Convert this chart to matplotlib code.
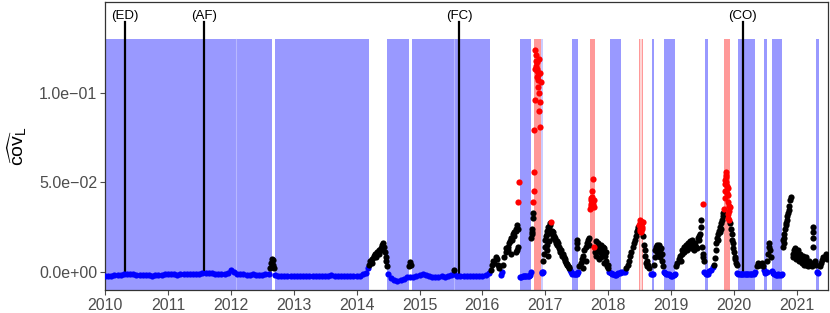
import numpy as np
import matplotlib
matplotlib.use('Agg')
import matplotlib.pyplot as plt

plt.rcParams['font.family'] = ['Liberation Sans', 'DejaVu Sans']
plt.rcParams['mathtext.fontset'] = 'custom'
plt.rcParams['mathtext.rm'] = 'Liberation Sans'
plt.rcParams['mathtext.it'] = 'Liberation Sans:italic'

# --- data (decimal years, covariance values) ---
# flat blue stretches, one reading every 0.05 year (values in 1e-3)
blue_flat_2010 = [-2.2, -2.2, -2.1, -2.0, -1.8, -1.6, -1.4, -1.3, -1.4, -1.5, -1.6, -1.8, -1.9, -2.0, -2.0, -2.1, -1.9, -1.6, -1.7, -1.5,
                  -1.4, -1.3, -1.5, -1.6, -1.4, -1.2, -1.5, -1.4, -1.3, -1.1, -1.0, -0.9, -0.9, -0.8, -0.9, -1.0, -1.0, -1.1, -1.2, -0.5,
                  0.9, -0.4, -1.0, -1.3, -1.5, -1.8, -1.6, -1.5, -1.7, -1.8, -1.6, -1.4, -1.0]
blue_flat_2012 = [-1.8, -2.2, -2.4, -2.5, -2.5, -2.6,
                  -2.6, -2.6, -2.5, -2.6, -2.6, -2.6, -2.5, -2.5, -2.4, -2.5, -2.4, -2.2, -1.9, -2.2, -2.4, -2.4, -2.5, -2.5, -2.4, -2.4,
                  -2.3, -2.2, -1.5, -0.5]
blue_flat_2014 = [-1.0, -3.5, -4.8, -5.2, -4.6, -3.8, -3.2, -2.9, -2.8, -2.5,
                  -2.0, -1.0, -1.8, -2.6, -2.8, -2.8, -2.7, -2.6, -2.7, -2.6, -2.0, -1.5, -2.3, -2.5, -2.5, -2.4, -2.5, -2.6, -2.5, -2.4,
                  -2.2, -1.8, -0.5]
flat_starts = [2010.0, 2012.7, 2014.5]
flat_ends = [2012.6, 2014.15, 2016.1]

blue_pts = [(2014.18, 0.002), (2016.30, -0.002), (2016.31, 0.0),
            (2016.60, -0.0028), (2016.62, -0.0027), (2016.64, -0.0026), (2016.66, -0.0026), (2016.68, -0.0025),
            (2016.70, -0.0025), (2016.72, -0.0024), (2016.74, -0.0022), (2016.76, -0.002), (2016.77, 0.0),
            (2016.94, 0.0), (2016.95, -0.0005), (2016.96, 0.0),
            (2017.39, 0.001), (2017.41, 0.0), (2017.43, -0.001), (2017.45, -0.0013), (2017.47, -0.0015),
            (2017.49, -0.0012), (2017.51, -0.001), (2017.52, 0.0),
            (2018.02, 0.0), (2018.04, -0.0005), (2018.06, -0.001), (2018.08, -0.0015), (2018.10, -0.0018),
            (2018.12, -0.0017), (2018.14, -0.0012), (2018.16, -0.0008), (2018.18, -0.0005), (2018.21, 0.0),
            (2018.24, 0.0), (2018.27, 0.0),
            (2018.68, -0.001), (2018.70, -0.0013), (2018.71, -0.001),
            (2018.88, 0.0), (2018.90, -0.0005), (2018.92, -0.001), (2018.94, -0.0013), (2018.96, -0.0015),
            (2018.98, -0.002), (2019.00, -0.0024), (2019.02, -0.0024), (2019.04, -0.002), (2019.06, -0.001),
            (2019.53, 0.0), (2019.55, -0.001), (2019.57, -0.0013), (2019.59, -0.001), (2019.61, 0.0005),
            (2019.63, 0.001), (2019.66, 0.0025),
            (2020.05, -0.0008), (2020.07, -0.0013), (2020.09, -0.0015), (2020.11, -0.0015), (2020.13, -0.0015),
            (2020.15, -0.0015), (2020.17, -0.0015), (2020.19, -0.0015), (2020.21, -0.0015), (2020.23, -0.0015),
            (2020.25, -0.0015), (2020.27, -0.0014), (2020.29, -0.0013), (2020.31, -0.001), (2020.33, 0.0),
            (2020.48, 0.001), (2020.50, -0.0005), (2020.52, 0.0),
            (2020.60, 0.0006), (2020.62, -0.0005), (2020.64, -0.0012), (2020.66, -0.0018), (2020.68, -0.0018),
            (2020.70, -0.0015), (2020.72, -0.0018), (2020.74, -0.002), (2020.76, -0.0015),
            (2021.32, 0.0), (2021.33, -0.0005)]

black_pts = [(2012.63, 0.002), (2012.645, 0.005), (2012.655, 0.007), (2012.665, 0.0065), (2012.675, 0.004), (2012.685, 0.002),
             (2014.20, 0.004), (2014.22, 0.006), (2014.24, 0.007), (2014.25, 0.005), (2014.27, 0.008), (2014.28, 0.009),
             (2014.30, 0.010), (2014.31, 0.008), (2014.33, 0.011), (2014.35, 0.012), (2014.36, 0.010), (2014.38, 0.013),
             (2014.40, 0.015), (2014.41, 0.012), (2014.42, 0.016), (2014.44, 0.014), (2014.45, 0.011), (2014.46, 0.008),
             (2014.47, 0.006), (2014.48, 0.003),
             (2014.84, 0.003), (2014.85, 0.0056), (2014.86, 0.004), (2015.55, 0.001),
             (2016.13, 0.001), (2016.15, 0.004), (2016.17, 0.006), (2016.19, 0.005), (2016.21, 0.008), (2016.23, 0.007),
             (2016.25, 0.004), (2016.27, 0.002),
             (2016.33, 0.004), (2016.35, 0.008), (2016.37, 0.011), (2016.38, 0.013), (2016.40, 0.014), (2016.41, 0.012),
             (2016.43, 0.016), (2016.44, 0.017), (2016.46, 0.019), (2016.47, 0.018), (2016.49, 0.021), (2016.50, 0.020),
             (2016.51, 0.022), (2016.53, 0.023), (2016.54, 0.024), (2016.55, 0.026), (2016.56, 0.024), (2016.45, 0.010),
             (2016.54, 0.011), (2016.55, 0.012), (2016.56, 0.014),
             (2016.78, 0.019), (2016.785, 0.022), (2016.79, 0.024), (2016.795, 0.021), (2016.80, 0.030), (2016.805, 0.033),
             (2016.97, 0.006), (2016.98, 0.010), (2016.99, 0.014), (2017.00, 0.018), (2017.01, 0.020), (2017.02, 0.021),
             (2017.03, 0.023), (2017.04, 0.022), (2017.05, 0.025), (2017.06, 0.024), (2017.07, 0.026), (2017.08, 0.027),
             (2017.02, 0.012), (2017.03, 0.015), (2017.06, 0.017), (2017.04, 0.009),
             (2017.10, 0.023), (2017.11, 0.021), (2017.12, 0.019), (2017.13, 0.022), (2017.14, 0.020), (2017.15, 0.018),
             (2017.16, 0.019), (2017.17, 0.016), (2017.18, 0.017), (2017.19, 0.015), (2017.20, 0.016), (2017.21, 0.013),
             (2017.22, 0.014), (2017.23, 0.012), (2017.24, 0.011), (2017.25, 0.012), (2017.26, 0.010), (2017.27, 0.009),
             (2017.28, 0.010), (2017.29, 0.008), (2017.30, 0.0075), (2017.31, 0.006), (2017.32, 0.007), (2017.33, 0.005),
             (2017.34, 0.004), (2017.35, 0.0045), (2017.36, 0.003), (2017.37, 0.002), (2017.38, 0.0025),
             (2017.50, 0.0177), (2017.50, 0.016), (2017.50, 0.013),
             (2017.54, 0.003), (2017.56, 0.005), (2017.58, 0.007), (2017.60, 0.009), (2017.62, 0.012), (2017.64, 0.014),
             (2017.66, 0.016), (2017.68, 0.018), (2017.70, 0.019), (2017.69, 0.015), (2017.60, 0.002), (2017.65, 0.006),
             (2017.79, 0.011), (2017.80, 0.017), (2017.81, 0.009), (2017.82, 0.014), (2017.83, 0.012), (2017.84, 0.016),
             (2017.85, 0.007), (2017.86, 0.013), (2017.87, 0.011), (2017.88, 0.015), (2017.89, 0.008), (2017.90, 0.012),
             (2017.91, 0.014), (2017.92, 0.010), (2017.93, 0.005), (2017.94, 0.013), (2017.95, 0.009), (2017.96, 0.011),
             (2017.97, 0.006), (2017.98, 0.003), (2017.99, 0.004), (2018.00, 0.002),
             (2018.29, 0.002), (2018.31, 0.004), (2018.33, 0.006), (2018.35, 0.009), (2018.37, 0.011), (2018.39, 0.014),
             (2018.41, 0.016), (2018.42, 0.0177), (2018.44, 0.020), (2018.45, 0.022), (2018.46, 0.023), (2018.47, 0.025),
             (2018.48, 0.024),
             (2018.56, 0.020), (2018.57, 0.015), (2018.58, 0.012), (2018.59, 0.009), (2018.60, 0.005), (2018.61, 0.003),
             (2018.62, 0.006), (2018.63, 0.004), (2018.65, 0.002),
             (2018.73, 0.004), (2018.74, 0.008), (2018.75, 0.012), (2018.76, 0.014), (2018.77, 0.011), (2018.78, 0.015),
             (2018.79, 0.013), (2018.80, 0.009), (2018.81, 0.015), (2018.82, 0.012), (2018.83, 0.008), (2018.84, 0.013),
             (2018.85, 0.010), (2018.86, 0.006), (2018.87, 0.003),
             (2019.08, 0.003), (2019.10, 0.005), (2019.12, 0.007), (2019.14, 0.009), (2019.15, 0.006), (2019.17, 0.010),
             (2019.18, 0.012), (2019.20, 0.011), (2019.21, 0.014), (2019.23, 0.013), (2019.24, 0.015), (2019.26, 0.012),
             (2019.27, 0.016), (2019.29, 0.014), (2019.30, 0.017), (2019.32, 0.013), (2019.33, 0.0177), (2019.35, 0.015),
             (2019.36, 0.012), (2019.38, 0.016), (2019.39, 0.014), (2019.41, 0.013), (2019.42, 0.019), (2019.44, 0.020),
             (2019.45, 0.018), (2019.46, 0.021), (2019.47, 0.025), (2019.48, 0.029), (2019.49, 0.014), (2019.50, 0.010),
             (2019.51, 0.008), (2019.52, 0.006),
             (2019.68, 0.004), (2019.69, 0.0075), (2019.71, 0.012), (2019.72, 0.016), (2019.73, 0.019), (2019.74, 0.021),
             (2019.75, 0.018), (2019.76, 0.023), (2019.77, 0.025), (2019.78, 0.022), (2019.79, 0.027), (2019.80, 0.024),
             (2019.81, 0.029), (2019.82, 0.033), (2019.83, 0.031),
             (2019.94, 0.027), (2019.95, 0.024), (2019.96, 0.021), (2019.97, 0.018), (2019.98, 0.016), (2019.99, 0.013),
             (2020.00, 0.011), (2020.01, 0.0084), (2020.02, 0.007), (2020.03, 0.005), (2020.04, 0.0037),
             (2020.36, 0.003), (2020.38, 0.0047), (2020.40, 0.004), (2020.42, 0.0035), (2020.44, 0.0047), (2020.46, 0.003),
             (2020.53, 0.006), (2020.54, 0.010), (2020.55, 0.014), (2020.56, 0.016), (2020.57, 0.012), (2020.58, 0.008),
             (2020.78, 0.0177), (2020.79, 0.019), (2020.80, 0.021), (2020.81, 0.024), (2020.82, 0.027), (2020.83, 0.026),
             (2020.84, 0.029), (2020.85, 0.031), (2020.86, 0.033), (2020.87, 0.0345), (2020.88, 0.037), (2020.89, 0.040),
             (2020.90, 0.042), (2020.78, 0.014), (2020.79, 0.016),
             (2020.93, 0.010), (2020.94, 0.008), (2020.95, 0.012), (2020.96, 0.009), (2020.97, 0.013), (2020.98, 0.010),
             (2020.99, 0.007), (2021.00, 0.011), (2021.01, 0.008), (2021.02, 0.012), (2021.03, 0.009), (2021.04, 0.006),
             (2021.05, 0.010), (2021.06, 0.007), (2021.07, 0.008), (2021.08, 0.005), (2021.09, 0.009), (2021.10, 0.006),
             (2021.11, 0.004), (2021.12, 0.007), (2021.13, 0.005), (2021.14, 0.008), (2021.15, 0.004), (2021.16, 0.006),
             (2021.17, 0.003), (2021.18, 0.005), (2021.19, 0.006), (2021.20, 0.004), (2021.22, 0.005), (2021.24, 0.003),
             (2021.26, 0.025), (2021.26, 0.022), (2021.26, 0.019), (2021.26, 0.014), (2021.28, 0.006), (2021.30, 0.004),
             (2021.36, 0.003), (2021.38, 0.005), (2021.40, 0.0065), (2021.42, 0.008), (2021.44, 0.0084), (2021.46, 0.010),
             (2021.48, 0.007)]

red_pts = [(2016.57, 0.039), (2016.58, 0.050),
           (2016.81, 0.039), (2016.815, 0.045), (2016.82, 0.056), (2016.825, 0.079), (2016.83, 0.096), (2016.835, 0.113),
           (2016.84, 0.124), (2016.845, 0.121), (2016.85, 0.118), (2016.855, 0.115), (2016.86, 0.112), (2016.865, 0.109),
           (2016.87, 0.117), (2016.875, 0.113), (2016.88, 0.110), (2016.885, 0.107), (2016.89, 0.103), (2016.895, 0.119),
           (2016.90, 0.100), (2016.905, 0.090), (2016.91, 0.081), (2016.915, 0.095), (2016.92, 0.111), (2016.925, 0.106),
           (2017.09, 0.028),
           (2017.71, 0.035), (2017.72, 0.038), (2017.72, 0.041), (2017.73, 0.040), (2017.73, 0.037), (2017.74, 0.042),
           (2017.74, 0.036), (2017.75, 0.039), (2017.75, 0.045), (2017.76, 0.052), (2017.76, 0.038), (2017.77, 0.036),
           (2017.77, 0.040), (2017.78, 0.014),
           (2018.49, 0.026), (2018.50, 0.027), (2018.50, 0.024), (2018.51, 0.029), (2018.51, 0.023), (2018.52, 0.026),
           (2018.52, 0.022), (2018.53, 0.028), (2018.53, 0.025), (2018.54, 0.024), (2018.55, 0.028),
           (2019.50, 0.038),
           (2019.84, 0.035), (2019.85, 0.041), (2019.85, 0.045), (2019.86, 0.049), (2019.86, 0.051), (2019.87, 0.054),
           (2019.87, 0.056), (2019.88, 0.053), (2019.88, 0.050), (2019.89, 0.048), (2019.89, 0.044), (2019.90, 0.047),
           (2019.91, 0.043), (2019.91, 0.039), (2019.92, 0.037), (2019.92, 0.034), (2019.93, 0.036), (2019.90, 0.032),
           (2019.91, 0.030), (2019.92, 0.029)]

# shaded regimes (start, end)
blue_spans = [(2010.0, 2012.65), (2012.70, 2014.19), (2014.49, 2014.84), (2014.875, 2016.12),
              (2016.60, 2016.77), (2017.42, 2017.525), (2018.03, 2018.20), (2018.69, 2018.73),
              (2018.89, 2019.06), (2019.54, 2019.59), (2020.06, 2020.33), (2020.48, 2020.52), (2020.60, 2020.77),
              (2021.30, 2021.35)]
light_lines = [2012.09, 2015.55]
faint_blue_spans = [(2016.31, 2016.315), (2016.93, 2016.96), (2018.23, 2018.235), (2018.31, 2018.315), (2019.66, 2019.665)]
red_spans = [(2016.82, 2016.93), (2017.71, 2017.795), (2018.49, 2018.50), (2018.535, 2018.545), (2019.84, 2019.935)]
faint_red_spans = [(2017.09, 2017.095), (2018.50, 2018.535), (2019.50, 2019.505)]

events = ['(ED)', '(AF)', '(FC)', '(CO)']
event_t = [2010.32, 2011.575, 2015.63, 2020.14]
event_base = [-0.0012, -0.0008, -0.0025, -0.0013]

ylo, yhi = -0.0102, 0.1507
band_top = 0.13

fig = plt.figure(figsize=(8.3, 3.13), dpi=100)
ax = fig.add_axes([105 / 830, 1 - 290 / 313, 723 / 830, 288 / 313])
frac = (band_top - ylo) / (yhi - ylo)

for a, b in blue_spans:
    ax.axvspan(a, b, ymax=frac, color='#9999ff', lw=0, zorder=0)
for t in light_lines:
    ax.axvline(t, ymax=frac, color='#b8b8ff', lw=0.8, zorder=0.5)
for a, b in faint_blue_spans:
    ax.axvspan(a, b, ymax=frac, color='#ccccff', lw=0, zorder=0)
for a, b in red_spans:
    ax.axvspan(a, b, ymax=frac, color='#ff9999', lw=0, zorder=0)
for a, b in faint_red_spans:
    ax.axvspan(a, b, ymax=frac, color='#ffd6d6', lw=0, zorder=0)

for lab, t, b in zip(events, event_t, event_base):
    ax.plot([t, t], [b, 0.1397], color='black', lw=1.6, zorder=1)
    ax.text(t, 0.1397, lab, ha='center', va='bottom', fontsize=9.5, color='black')

for vals, t0, t1 in zip([blue_flat_2010, blue_flat_2012, blue_flat_2014], flat_starts, flat_ends):
    tt = np.linspace(t0, t1, len(vals))
    ax.scatter(tt, np.array(vals) * 1e-3, s=20, color='#0000ff', lw=0, zorder=3)

bt, bv = zip(*blue_pts)
ax.scatter(bt, bv, s=20, color='#0000ff', lw=0, zorder=3)
kt, kv = zip(*black_pts)
ax.scatter(kt, kv, s=20, color='black', lw=0, zorder=3)
rt, rv = zip(*red_pts)
ax.scatter(rt, rv, s=20, color='#ff0000', lw=0, zorder=3)

ax.set_xlim(2010.0, 2021.494)
ax.set_ylim(ylo, yhi)
ax.set_xticks(range(2010, 2022))
ax.set_xticklabels([str(y) for y in range(2010, 2022)])
ax.set_yticks([0, 0.05, 0.1])
ax.set_yticklabels(['0.0e+00', '5.0e\u221202', '1.0e\u221201'])
ax.tick_params(axis='both', labelsize=11.5, colors='#4d4d4d', length=3.5, width=0.8, pad=2)
for s in ax.spines.values():
    s.set_color('#333333')
    s.set_linewidth(0.9)

ax.set_ylabel(r'$\widehat{\mathrm{cov}}_{\mathrm{L}}$', fontsize=14)
ax.yaxis.set_label_coords(-0.105, 0.5)

fig.savefig('out.png', dpi=100)
